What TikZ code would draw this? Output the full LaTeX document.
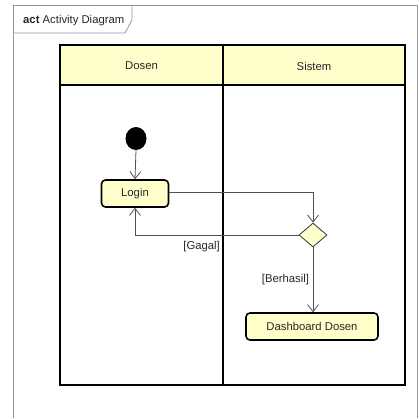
\documentclass[tikz,border=0pt]{standalone}
\usepackage{fontspec}
\setmainfont{Liberation Sans}
\usetikzlibrary{shapes.geometric,arrows.meta}
\definecolor{umlfill}{RGB}{255,255,204}
\definecolor{flowcol}{RGB}{80,80,80}
\definecolor{framecol}{RGB}{150,150,150}
\tikzset{
  txt/.style={font=\fontsize{11.3}{13}\selectfont, text=black!85, inner sep=1pt},
  lanebox/.style={draw=black, line width=1.6pt},
  actbox/.style={draw=black, line width=1.6pt, fill=umlfill, rounded corners=4pt, inner sep=0pt,
    font=\fontsize{11.3}{13}\selectfont, text=black!85},
  decis/.style={diamond, draw=black!80, line width=0.8pt, fill=umlfill, inner sep=0pt,
    minimum width=28pt, minimum height=24pt},
  flow/.style={draw=flowcol, line width=0.8pt, -{Straight Barb[length=7pt,width=11pt]}},
}
\begin{document}
\begin{tikzpicture}[x=1pt,y=-1pt]
\useasboundingbox (0,0) rectangle (419,418);
% frame
\draw[framecol, line width=0.8pt] (13,418) -- (13,5) -- (417,5) -- (417,418);
\draw[framecol, line width=0.8pt] (132,5) -- (132,20) -- (125,33) -- (13,33);
\node[txt, anchor=west] (title) at (22,21) {\textbf{act} Activity Diagram};
% swimlanes
\fill[umlfill] (60,45) rectangle (405,85);
\draw[lanebox] (60,45) rectangle (405,385);
\draw[lanebox] (60,85) -- (405,85);
\draw[lanebox] (223,45) -- (223,385);
\node[txt] (dosen) at (141.5,66) {Dosen};
\node[txt] (sistem) at (314,66) {Sistem};
% nodes
\node[ellipse, fill=black, inner sep=0pt, minimum width=21pt, minimum height=23pt] (start) at (136,138.5) {};
\node[actbox, minimum width=67pt, minimum height=27pt] (login) at (135,193.5) {Login};
\node[decis] (dec) at (313,235) {};
\node[actbox, minimum width=132pt, minimum height=27pt] (dash) at (312,326.5) {Dashboard Dosen};
% flows
\draw[flow] (start.south) -- (login.north);
\draw[flow] (login.east |- 0,192) -| (dec.north);
\draw[flow] (dec.west) -| (login.south);
\draw[flow] (dec.south) -- (dec.south |- dash.north);
\node[txt, anchor=east] (gagal) at (221,247) {[Gagal]};
\node[txt] (berhasil) at (285.5,280) {[Berhasil]};
\end{tikzpicture}
\end{document}
